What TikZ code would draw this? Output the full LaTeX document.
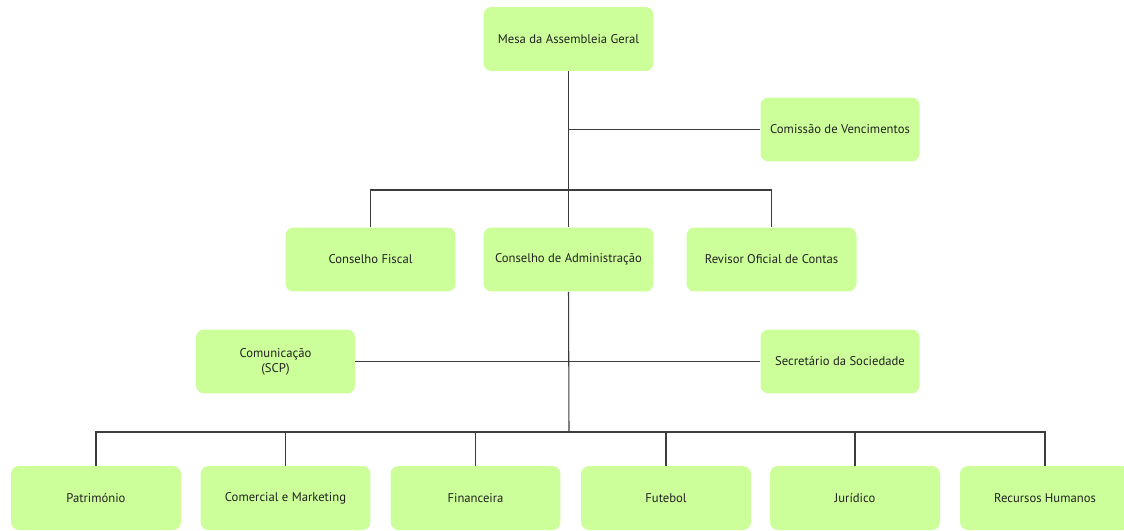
\documentclass[tikz,border=0pt]{standalone}
\usepackage{fontspec}
\setmainfont{PT Sans}
\definecolor{boxgreen}{RGB}{204,255,153}
\definecolor{linegray}{RGB}{60,60,60}
\definecolor{textgray}{RGB}{34,34,34}
\tikzset{
  unit/.style={fill=boxgreen, rounded corners=0.16cm, minimum width=3.4cm,
    minimum height=1.28cm, align=center, text=textgray,
    font=\fontsize{7.2}{8.4}\selectfont},
  unitsm/.style={unit, minimum width=3.18cm},
  link/.style={draw=linegray, line width=0.6pt}
}
\begin{document}
\begin{tikzpicture}[x=0.02cm, y=-0.02cm]

  % ================================================================
  % Frame
  % ================================================================

  \useasboundingbox[fill=white] (0,0) rectangle (1124,530);

  % ================================================================
  % General assembly and boards
  % ================================================================

  \node[unit] (mesa) at (568.5,39) {Mesa da Assembleia Geral};
  \node[unitsm] (comissao) at (840,129.5) {Comissão de Vencimentos};

  \node[unit] (fiscal) at (370.5,259.5) {Conselho Fiscal};
  \node[unit] (admin) at (568.5,259.5) {Conselho de Administração};
  \node[unit] (revisor) at (771.5,259.5) {Revisor Oficial de Contas};

  % ================================================================
  % Staff units
  % ================================================================

  \node[unitsm] (comunicacao) at (275.5,361.5) {Comunicação\\(SCP)};
  \node[unitsm] (secretario) at (840,361.5) {Secretário da Sociedade};

  % ================================================================
  % Departments
  % ================================================================

  \node[unit] (patrimonio) at (96,498) {Património};
  \node[unit] (comercial) at (285.5,498) {Comercial e Marketing};
  \node[unit] (financeira) at (475.5,498) {Financeira};
  \node[unit] (futebol) at (666,498) {Futebol};
  \node[unit] (juridico) at (855,498) {Jurídico};
  \node[unit] (recursos) at (1045,498) {Recursos Humanos};

  % ================================================================
  % Connectors
  % ================================================================

  \coordinate (topbar) at (569,190);
  \coordinate (lowbar) at (569,432);

  % --- Mesa -> Conselho de Administração ---
  \draw[link] (mesa.south) -- (admin.north);
  \draw[link] (mesa.south |- comissao.west) -- (comissao.west);

  % --- boards bar ---
  \draw[link] (fiscal.north) |- (topbar) -| (revisor.north);

  % --- Conselho de Administração -> departments ---
  \draw[link] (admin.south) -- (lowbar);
  \draw[link] (comunicacao.east) -- (secretario.west);
  \draw[link] (patrimonio.north) |- (lowbar) -| (recursos.north);
  \foreach \dept in {comercial, financeira, futebol, juridico}
    \draw[link] (\dept.north) -- (\dept.north |- lowbar);

\end{tikzpicture}
\end{document}
